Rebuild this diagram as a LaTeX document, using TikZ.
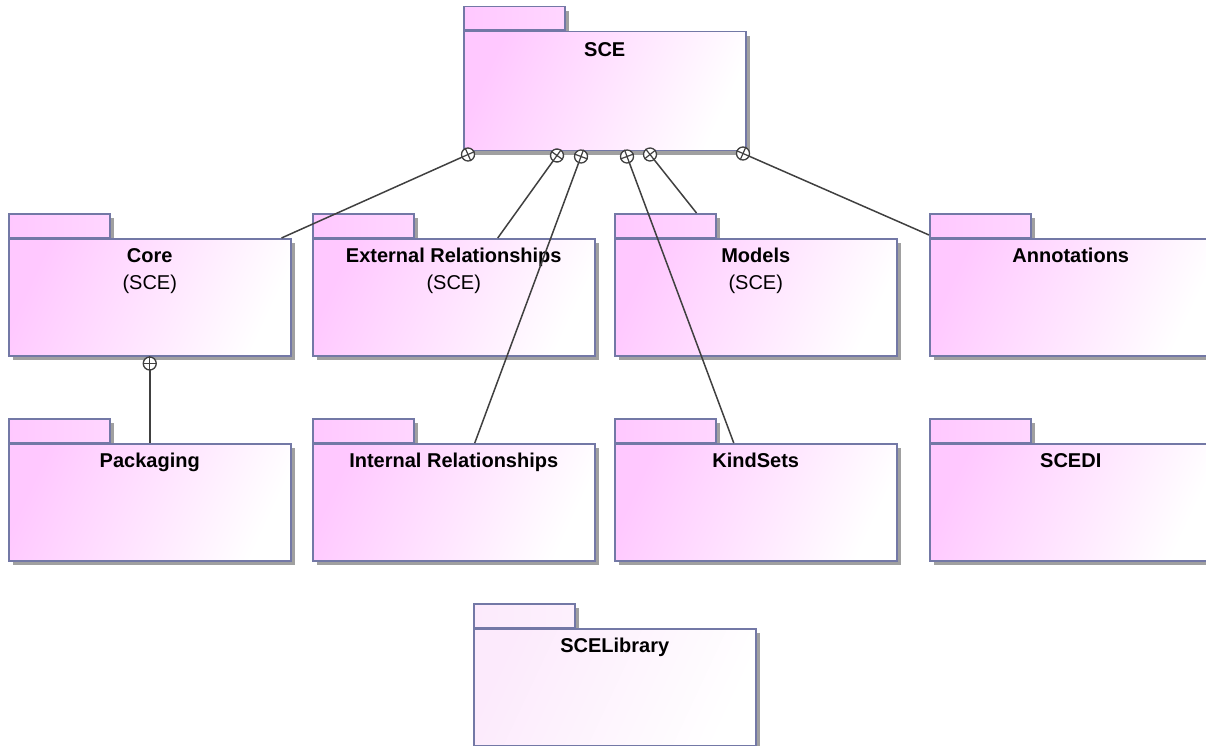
\documentclass[tikz,border=0pt]{standalone}
\usepackage{fontspec}
\setmainfont{Liberation Sans}
\definecolor{pkPink}{HTML}{FFC8FF}
\definecolor{pkPale}{HTML}{FCEAFC}
\definecolor{pkLine}{HTML}{7378A6}
\definecolor{pkShadow}{HTML}{A0A0A0}
\definecolor{pkWire}{HTML}{404040}
\usetikzlibrary{calc,positioning,shadows}

\begin{document}
\begin{tikzpicture}[x=1pt,y=-1pt,
  pkgshadow/.style={drop shadow={shadow xshift=4pt,shadow yshift=-4pt,opacity=1,fill=pkShadow}},
  pkgtab/.style={draw=pkLine,line width=1.5pt,left color=pkPink,right color=pkPink!75,
    minimum width=101pt,minimum height=23.5pt,inner sep=0pt,anchor=south west,pkgshadow},
  pkgbody/.style={draw=pkLine,line width=1.5pt,left color=pkPink,right color=white,shading angle=65,
    minimum width=282pt,minimum height=117pt,inner sep=0pt,anchor=north west,pkgshadow},
  libtab/.style={pkgtab,left color=pkPale,right color=pkPale!70},
  libbody/.style={pkgbody,left color=pkPale,right color=white,shading angle=65},
  pkgname/.style={font=\fontsize{20}{27}\selectfont\bfseries,align=center,inner sep=0pt,anchor=north},
  wire/.style={draw=pkWire,line width=1.5pt},
  contain/.style={circle,draw=pkWire,fill=white,line width=1.3pt,minimum size=13pt,inner sep=0pt},
  crossbar/.style={draw=pkWire,line width=1.2pt}]
  \useasboundingbox (0,0) rectangle (1206,746);
  \clip (0,0) rectangle (1206,746);

  % SCE
  \node[pkgtab] (scetab) at (463,31) {};
  \node[pkgbody, minimum height=119pt] (sce) at (463,31) {};
  \node[pkgname] (scename) at ([yshift=-11pt]sce.north) {SCE};

  % First row
  \node[pkgtab] (coretab) at (8,238) {};
  \node[pkgbody] (core) at (8,238) {};
  \node[pkgname] (corename) at ([yshift=-10pt]core.north) {Core\\{\mdseries (SCE)}};

  \node[pkgtab] (extreltab) at (312,238) {};
  \node[pkgbody] (extrel) at (312,238) {};
  \node[pkgname] (extrelname) at ([yshift=-10pt]extrel.north) {External Relationships\\{\mdseries (SCE)}};

  \node[pkgtab] (modelstab) at (614,238) {};
  \node[pkgbody] (models) at (614,238) {};
  \node[pkgname] (modelsname) at ([yshift=-10pt]models.north) {Models\\{\mdseries (SCE)}};

  \node[pkgtab] (annottab) at (929,238) {};
  \node[pkgbody] (annot) at (929,238) {};
  \node[pkgname] (annotname) at ([yshift=-10pt]annot.north) {Annotations};

  % Second row
  \node[pkgtab] (packtab) at (8,443) {};
  \node[pkgbody] (pack) at (8,443) {};
  \node[pkgname] (packname) at ([yshift=-10pt]pack.north) {Packaging};

  \node[pkgtab] (intreltab) at (312,443) {};
  \node[pkgbody] (intrel) at (312,443) {};
  \node[pkgname] (intrelname) at ([yshift=-10pt]intrel.north) {Internal Relationships};

  \node[pkgtab] (kindtab) at (614,443) {};
  \node[pkgbody] (kind) at (614,443) {};
  \node[pkgname] (kindname) at ([yshift=-10pt]kind.north) {KindSets};

  \node[pkgtab] (sceditab) at (929,443) {};
  \node[pkgbody] (scedi) at (929,443) {};
  \node[pkgname] (sceediname) at ([yshift=-10pt]scedi.north) {SCEDI};

  % Library
  \node[libtab] (libtab) at (473,628) {};
  \node[libbody] (lib) at (473,628) {};
  \node[pkgname] (libname) at ([yshift=-10pt]lib.north) {SCELibrary};

  % Containment
  \draw[wire] ([xshift=5pt,yshift=-3pt]sce.south west) -- node[contain,pos=0,sloped] (c1) {} ([xshift=-10pt]core.north east);
  \draw[wire] ([xshift=94pt,yshift=-4pt]sce.south west) -- node[contain,pos=0,sloped] (c2) {} ([xshift=44pt]extrel.north);
  \draw[wire] ([xshift=118pt,yshift=-5pt]sce.south west) -- node[contain,pos=0,sloped] (c3) {} ([xshift=21pt]intrel.north);
  \draw[wire] ([xshift=164pt,yshift=-5pt]sce.south west) -- node[contain,pos=0,sloped] (c4) {} ([xshift=-22pt]kind.north);
  \draw[wire] ([xshift=187pt,yshift=-3pt]sce.south west) -- node[contain,pos=0,sloped] (c5) {} ([xshift=-20pt]modelstab.north east);
  \draw[wire] ([xshift=280pt,yshift=-2pt]sce.south west) -- node[contain,pos=0,sloped] (c6) {} ([yshift=3pt]annot.north west);
  \draw[wire] ([yshift=-7pt]core.south) -- node[contain,pos=0,sloped] (c7) {} (pack.north);
  \foreach \c in {c1,c2,c3,c4,c5,c6,c7}
    \draw[crossbar] (\c.north) -- (\c.south) (\c.west) -- (\c.east);
\end{tikzpicture}
\end{document}
